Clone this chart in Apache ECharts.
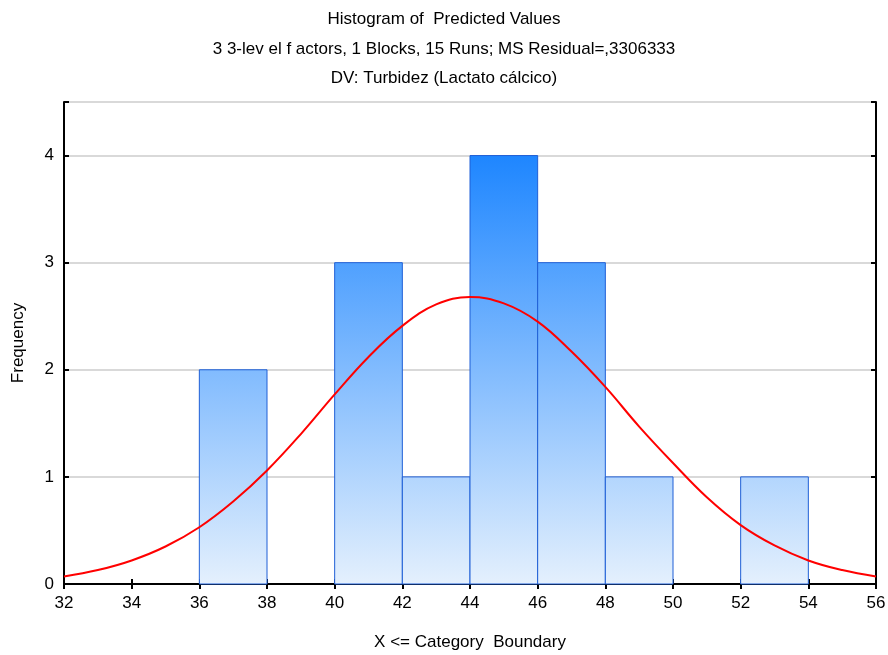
<!DOCTYPE html>
<html>
<head>
<meta charset="utf-8">
<script src="https://cdn.jsdelivr.net/npm/echarts@6/dist/echarts.min.js"></script>
<style>
  html, body { margin: 0; padding: 0; background: #fff; }
  #main { width: 888px; height: 655px; }
</style>
</head>
<body>
<div id="main"></div>
<script>
// bin edges and counts
const binStart = [36, 38, 40, 42, 44, 46, 48, 50, 52];
const binEnd = [38, 40, 42, 44, 46, 48, 50, 52, 54];
const counts = [2, 0, 3, 1, 4, 3, 1, 0, 1];

// expected normal curve
const curveX = [32, 33, 34, 35, 36, 37, 38, 39, 40, 41, 42, 43, 44, 45, 46, 47, 48, 49, 50, 51, 52, 53, 54, 55, 56];
const curveY = [0.07, 0.13, 0.22, 0.35, 0.53, 0.77, 1.06, 1.40, 1.77, 2.12, 2.41, 2.61, 2.68, 2.62, 2.45, 2.17, 1.84, 1.47, 1.13, 0.81, 0.55, 0.36, 0.22, 0.13, 0.07];

const xTicks = [32, 56, 2];
const yTicks = [0, 4.5, 1];

const titleLines = [
  'Histogram of  Predicted Values',
  '3 3-lev el f actors, 1 Blocks, 15 Runs; MS Residual=,3306333',
  'DV: Turbidez (Lactato cálcico)'
];

let myChart = echarts.init(document.getElementById('main'));
const font = 'Liberation Sans, Arial, sans-serif';

let bars = binStart.map((s, i) => [s, binEnd[i], counts[i]]).filter(d => d[2] > 0);

let option = {
  animation: false,
  textStyle: { fontFamily: font },
  title: titleLines.map((t, i) => ({
    text: t,
    left: 'center',
    top: 6 + i * 29.5,
    textStyle: { fontFamily: font, fontSize: 17, fontWeight: 'normal', color: '#000' }
  })),
  grid: { left: 64, right: 12, top: 102, bottom: 71, containLabel: false, outerBoundsMode: 'none' },
  xAxis: [
    {
      type: 'value', min: xTicks[0], max: xTicks[1], interval: xTicks[2],
      name: 'X <= Category  Boundary', nameLocation: 'middle', nameGap: 50,
      nameTextStyle: { fontFamily: font, fontSize: 17, color: '#000' },
      axisLine: { lineStyle: { color: '#000', width: 2 } },
      axisTick: { inside: true, length: 5, lineStyle: { color: '#000', width: 2 } },
      axisLabel: { fontFamily: font, fontSize: 17, color: '#000', margin: 11 },
      splitLine: { show: false }
    },
    {
      type: 'value', position: 'top', min: xTicks[0], max: xTicks[1], interval: xTicks[2],
      axisLine: { lineStyle: { color: '#000', width: 2 } },
      axisTick: { inside: true, length: 5, lineStyle: { color: '#000', width: 2 } },
      axisLabel: { show: false },
      splitLine: { show: false }
    }
  ],
  yAxis: [
    {
      type: 'value', min: yTicks[0], max: yTicks[1], interval: yTicks[2],
      name: 'Frequency', nameLocation: 'middle', nameGap: 37,
      nameTextStyle: { fontFamily: font, fontSize: 17, color: '#000' },
      axisLine: { show: true, lineStyle: { color: '#000', width: 2 } },
      axisTick: { show: true, inside: true, length: 5, lineStyle: { color: '#000', width: 2 } },
      axisLabel: {
        fontFamily: font, fontSize: 17, color: '#000', margin: 10,
        formatter: v => (Number.isInteger(v) ? String(v) : '')
      },
      splitLine: { show: true, lineStyle: { color: '#d9d9d9', width: 2 } }
    },
    {
      type: 'value', position: 'right', min: yTicks[0], max: yTicks[1], interval: yTicks[2],
      axisLine: { show: true, lineStyle: { color: '#000', width: 2 } },
      axisTick: { show: true, inside: true, length: 5, lineStyle: { color: '#000', width: 2 } },
      axisLabel: { show: false },
      splitLine: { show: false }
    }
  ],
  series: [
    {
      type: 'custom',
      z: 2,
      data: bars,
      renderItem: function(params, api) {
        let p0 = api.coord([api.value(0), api.value(2)]);
        let p1 = api.coord([api.value(1), 0]);
        let top4 = api.coord([32, 4]);
        let base = api.coord([32, 0]);
        return {
          type: 'rect',
          shape: { x: p0[0], y: p0[1], width: p1[0] - p0[0], height: p1[1] - p0[1] },
          style: {
            fill: new echarts.graphic.LinearGradient(0, top4[1], 0, base[1], [
              { offset: 0, color: '#1e86ff' },
              { offset: 1, color: '#e4f0fd' }
            ], true),
            stroke: '#1f5fd6',
            lineWidth: 1
          }
        };
      }
    },
    {
      type: 'line',
      z: 3,
      smooth: 0.4,
      symbol: 'none',
      data: curveX.map((x, i) => [x, curveY[i]]),
      lineStyle: { color: '#ff0000', width: 2 }
    }
  ]
};
myChart.setOption(option);
</script>
</body>
</html>
